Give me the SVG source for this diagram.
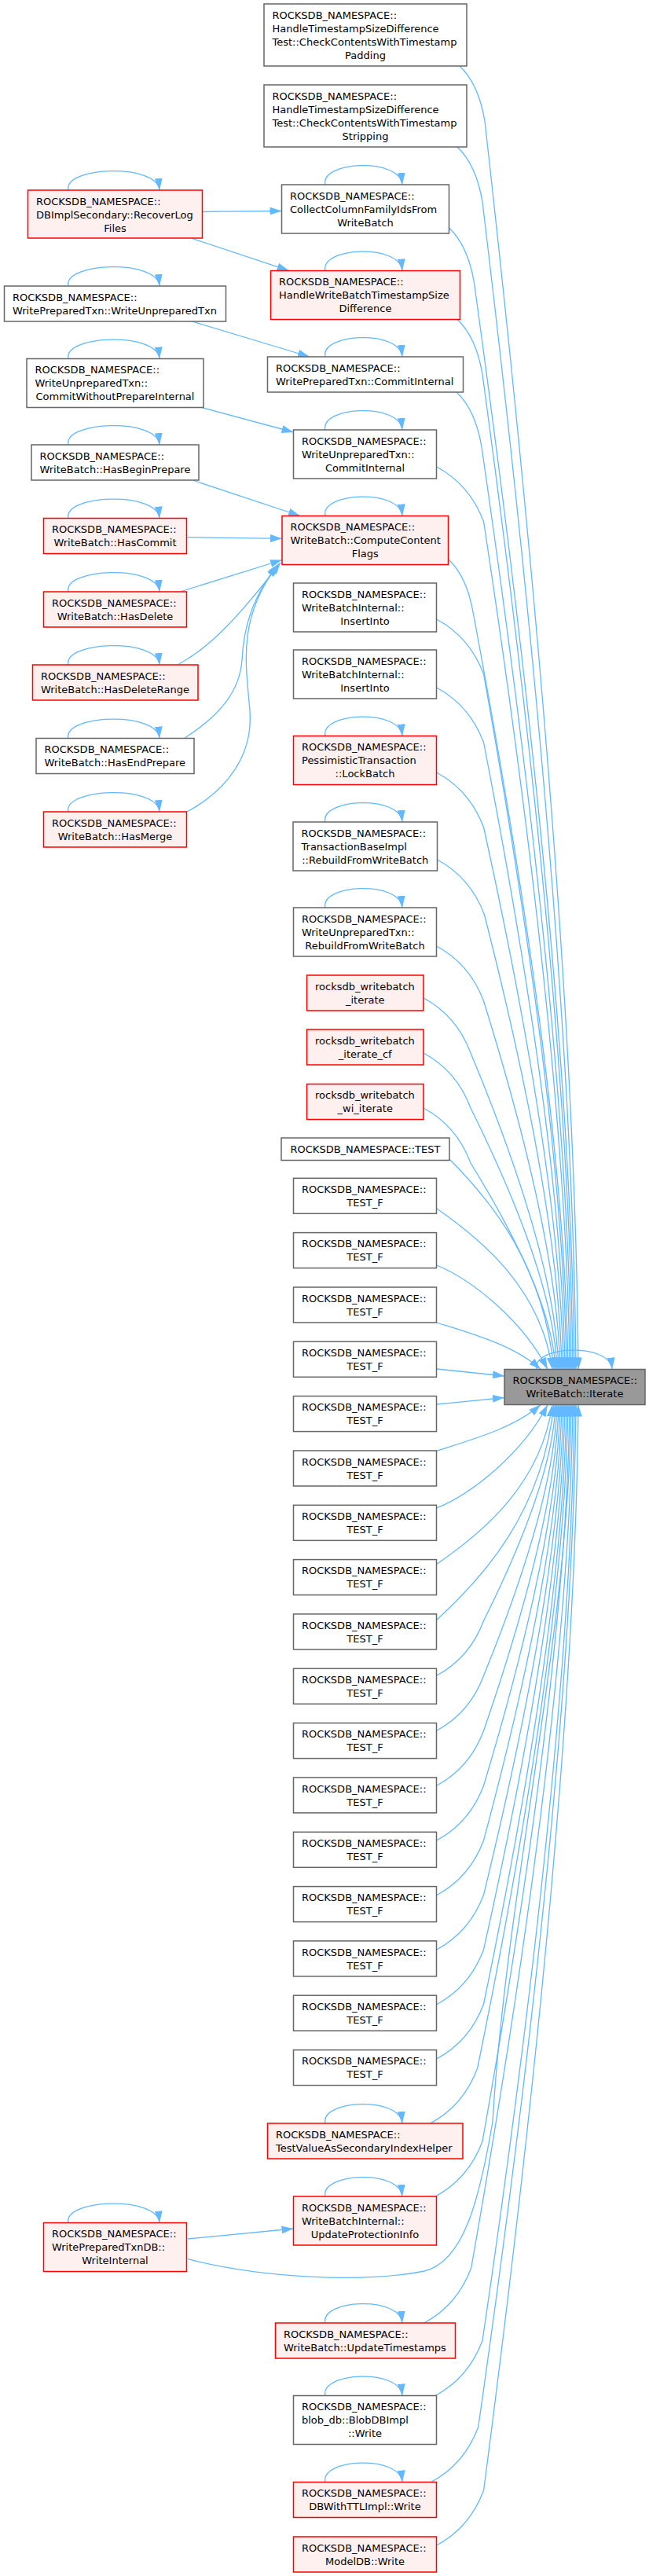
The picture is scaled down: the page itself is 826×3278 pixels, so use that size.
<svg xmlns="http://www.w3.org/2000/svg" width="826" height="3278" viewBox="0 0 826 3278">
<defs>
<marker id="ah" markerUnits="userSpaceOnUse" markerWidth="15" markerHeight="10" viewBox="0 0 15 10" refX="15" refY="5" orient="auto"><path d="M0,0 L15,5 L0,10 z" fill="#63b8ff"/></marker>
</defs>
<style>
rect{stroke-width:1.5}
.w rect{fill:#ffffff;stroke:#666666}
.r rect{fill:#fff0f0;stroke:#ff0000}
.g rect{fill:#999999;stroke:#666666}
text{font-family:"DejaVu Sans","Liberation Sans",sans-serif;font-size:13px;fill:#000000}
.c{text-anchor:middle}
#edges path{fill:none;stroke:#63b8ff;stroke-width:1.3;marker-end:url(#ah)}
</style>
<rect x="0" y="0" width="826" height="3278" fill="#ffffff"/>
<g id="edges">
<path d="M585,84 C601,99 612,124 617,154 C670.6,630.6 732.4,1265.9 736,1742.5"/>
<path d="M582,187 C598,202 609,227 614,257 C667.6,702.7 729.4,1296.9 733,1742.5"/>
<path d="M571.5,290 C587.5,305 598.5,330 603.5,360 C660.9,774.8 727.2,1327.8 731,1742.5"/>
<path d="M582,406.5 C598,421.5 609,446.5 614,476.5 C665.8,856.3 725.6,1362.7 729,1742.5"/>
<path d="M581,499 C597,514 608,539 613,569 C664.3,921 723.6,1390.4 727,1742.5"/>
<path d="M555.6,594 C583.6,609 603.6,632 615.6,664 C664.8,987.6 721.7,1419 725,1742.5"/>
<path d="M570.5,711.5 C586.5,726.5 597.5,751.5 602.5,781.5 C656.7,1069.8 719.4,1454.2 723,1742.5"/>
<path d="M555.6,788 C583.6,803 603.6,826 615.6,858 C663,1123.4 717.8,1477.2 721,1742.5"/>
<path d="M555.6,875 C583.6,890 603.6,913 615.6,945 C662.1,1184.3 715.9,1503.3 719,1742.5"/>
<path d="M555.6,983 C583.6,998 603.6,1021 615.6,1053 C661.2,1259.9 714,1535.6 717,1742.5"/>
<path d="M556.5,1094 C584.5,1109 604.5,1132 616.5,1164 C660.8,1337.6 712,1568.9 715,1742.5"/>
<path d="M555.6,1204 C583.6,1219 603.6,1242 615.6,1274 C659.4,1414.6 710.1,1601.9 713,1742.5"/>
<path d="M539,1270 C567,1285 587,1308 599,1340 C649.4,1460.8 707.6,1621.8 711,1742.5"/>
<path d="M539,1340 C567,1355 587,1378 599,1410 C648.5,1509.8 705.7,1642.8 709,1742.5"/>
<path d="M539,1410 C567,1425 587,1448 599,1480 C647.6,1558.8 703.8,1663.8 707,1742.5"/>
<path d="M572,1475 C625.2,1528.5 691.7,1608.8 705,1742.5"/>
<path d="M555.6,1537.7 C614.6,1578.7 688.3,1640.1 703,1742.5"/>
<path d="M555.6,1610 C600,1628 665,1680 697,1742.5"/>
<path d="M555.6,1683 C600,1697 655,1712 688,1742.5"/>
<path d="M555.6,1742 C585,1745 615,1748 642,1751"/>
<path d="M555.6,1787 C585,1784 615,1781 642,1778.5"/>
<path d="M555.6,1846.3 C600,1832 655,1817 688,1787.5"/>
<path d="M555.6,1919 C600,1901 665,1850 697,1787.5"/>
<path d="M555.6,1990.5 C614.6,1949.9 688.3,1889 703,1787.5"/>
<path d="M555.6,2061.5 C615.4,2006.7 690.1,1924.5 705,1787.5"/>
<path d="M555.6,2132.3 C583.6,2117.3 603.6,2094.3 615.6,2062.3 C656.7,1979.9 704.3,1869.9 707,1787.5"/>
<path d="M555.6,2202.3 C583.6,2187.3 603.6,2164.3 615.6,2132.3 C657.6,2028.9 706.2,1891 709,1787.5"/>
<path d="M555.6,2272.3 C583.6,2257.3 603.6,2234.3 615.6,2202.3 C658.5,2077.9 708.1,1911.9 711,1787.5"/>
<path d="M555.6,2342 C583.6,2327 603.6,2304 615.6,2272 C659.4,2126.7 710.1,1932.9 713,1787.5"/>
<path d="M555.6,2411.7 C583.6,2396.7 603.6,2373.7 615.6,2341.7 C660.3,2175.4 712,1953.8 715,1787.5"/>
<path d="M555.6,2481 C583.6,2466 603.6,2443 615.6,2411 C661.2,2223.9 714,1974.6 717,1787.5"/>
<path d="M555.6,2550.7 C583.6,2535.7 603.6,2512.7 615.6,2480.7 C662.1,2272.7 715.9,1995.5 719,1787.5"/>
<path d="M555.6,2620 C583.6,2605 603.6,2582 615.6,2550 C663,2321.3 717.8,2016.3 721,1787.5"/>
<path d="M547.6,2702 C575.6,2687 595.6,2664 607.6,2632 C659.5,2378.6 719.5,2040.9 723,1787.5"/>
<path d="M554,2795 C582,2780 602,2757 614,2725 C664,2443.8 721.7,2068.8 725,1787.5"/>
<path d="M239,2874.7 C330,2898 460,2906 540,2890 C590,2878 610,2800 627,2700 C645,2400 724,2080 727,1787.5"/>
<path d="M539.7,2956 C567.7,2941 587.7,2918 599.7,2886 C657.9,2556.5 725.1,2117.1 729,1787.5"/>
<path d="M554,3048.5 C582,3033.5 602,3010.5 614,2978.5 C666.7,2621.2 727.5,2144.8 731,1787.5"/>
<path d="M548.7,3158.5 C576.7,3143.5 596.7,3120.5 608.7,3088.5 C664.6,2698.2 729.3,2177.8 733,1787.5"/>
<path d="M555.6,3239 C583.6,3224 603.6,3201 615.6,3169 C669.8,2754.6 732.4,2201.9 736,1787.5"/>
<path d="M257,269.5 C290,269 320,268.7 358.5,268.5"/>
<path d="M244.5,303.5 L367.7,344.3"/>
<path d="M244.5,409 L394,454"/>
<path d="M257,518.7 L373.5,550"/>
<path d="M246.5,611.5 L382,656.5"/>
<path d="M238.5,683.7 L359,685.3"/>
<path d="M230.7,752.5 L359,712.5"/>
<path d="M227.5,845 C265,825 300,790 357,716"/>
<path d="M235.4,939 C280,910 305,880 308,840 C310,800 320,760 355,717.5"/>
<path d="M238,1033 C290,1005 322,960 318,905 C314,850 300,790 353,719"/>
<path d="M239,2849 L373.5,2836"/>
<path d="M87,242 C80,212 200,207 203,242"/>
<path d="M87,364 C80,334 200,329 203,364"/>
<path d="M87,456.5 C80,426.5 200,421.5 203,456.5"/>
<path d="M87,566 C80,536 200,531 203,566"/>
<path d="M87,659.5 C80,629.5 200,624.5 203,659.5"/>
<path d="M87,753 C80,723 200,718 203,753"/>
<path d="M87,846 C80,816 200,811 203,846"/>
<path d="M87,939.5 C80,909.5 200,904.5 203,939.5"/>
<path d="M87,1033 C80,1003 200,998 203,1033"/>
<path d="M87,2828.5 C80,2798.5 200,2793.5 203,2828.5"/>
<path d="M414,235 C407,205 509,200 512,235"/>
<path d="M414,344.5 C407,314.5 509,309.5 512,344.5"/>
<path d="M414,454 C407,424 509,419 512,454"/>
<path d="M414,547 C407,517 509,512 512,547"/>
<path d="M414,656.5 C407,626.5 509,621.5 512,656.5"/>
<path d="M414,936.5 C407,906.5 509,901.5 512,936.5"/>
<path d="M414,1046 C407,1016 509,1011 512,1046"/>
<path d="M414,1155 C407,1125 509,1120 512,1155"/>
<path d="M414,2702 C407,2672 509,2667 512,2702"/>
<path d="M414,2795 C407,2765 509,2760 512,2795"/>
<path d="M414,2956 C407,2926 509,2921 512,2956"/>
<path d="M414,3048.5 C407,3018.5 509,3013.5 512,3048.5"/>
<path d="M414,3158.5 C407,3128.5 509,3123.5 512,3158.5"/>
<path d="M683,1742.5 C676,1712.5 776,1707.5 779,1742.5"/>
</g>
<g id="nA" class="w"><rect x="336" y="5" width="258" height="79"/><text x="346.5" y="23.8">ROCKSDB_NAMESPACE::</text><text x="346.5" y="40.8">HandleTimestampSizeDifference</text><text x="346.5" y="57.8">Test::CheckContentsWithTimestamp</text><text class="c" x="465" y="74.8">Padding</text></g>
<g id="nB" class="w"><rect x="336" y="108" width="258" height="79"/><text x="346.5" y="126.8">ROCKSDB_NAMESPACE::</text><text x="346.5" y="143.8">HandleTimestampSizeDifference</text><text x="346.5" y="160.8">Test::CheckContentsWithTimestamp</text><text class="c" x="465" y="177.8">Stripping</text></g>
<g id="nC" class="r"><rect x="35.5" y="242" width="222" height="61"/><text x="46" y="260.8">ROCKSDB_NAMESPACE::</text><text x="46" y="277.8">DBImplSecondary::RecoverLog</text><text class="c" x="146.5" y="294.8">Files</text></g>
<g id="nD" class="w"><rect x="358.5" y="235" width="213" height="62"/><text x="369" y="253.8">ROCKSDB_NAMESPACE::</text><text x="369" y="270.8">CollectColumnFamilyIdsFrom</text><text class="c" x="465" y="287.8">WriteBatch</text></g>
<g id="nE" class="r"><rect x="344.5" y="344.5" width="241" height="62"/><text x="355" y="363.3">ROCKSDB_NAMESPACE::</text><text x="355" y="380.3">HandleWriteBatchTimestampSize</text><text class="c" x="465" y="397.3">Difference</text></g>
<g id="nF" class="w"><rect x="5.5" y="364" width="282" height="45"/><text x="16" y="382.8">ROCKSDB_NAMESPACE::</text><text x="16" y="399.8">WritePreparedTxn::WriteUnpreparedTxn</text></g>
<g id="nG" class="w"><rect x="340.5" y="454" width="249" height="45"/><text x="351" y="472.8">ROCKSDB_NAMESPACE::</text><text x="351" y="489.8">WritePreparedTxn::CommitInternal</text></g>
<g id="nH" class="w"><rect x="34" y="456.5" width="225" height="62"/><text x="44.5" y="475.3">ROCKSDB_NAMESPACE::</text><text x="44.5" y="492.3">WriteUnpreparedTxn::</text><text class="c" x="146.5" y="509.3">CommitWithoutPrepareInternal</text></g>
<g id="nI" class="w"><rect x="373.5" y="547" width="182" height="62"/><text x="384" y="565.8">ROCKSDB_NAMESPACE::</text><text x="384" y="582.8">WriteUnpreparedTxn::</text><text class="c" x="464.5" y="599.8">CommitInternal</text></g>
<g id="nJ" class="w"><rect x="40" y="566" width="213" height="45"/><text x="50.5" y="584.8">ROCKSDB_NAMESPACE::</text><text x="50.5" y="601.8">WriteBatch::HasBeginPrepare</text></g>
<g id="nK" class="r"><rect x="359" y="656.5" width="211.5" height="62"/><text x="369.5" y="675.3">ROCKSDB_NAMESPACE::</text><text x="369.5" y="692.3">WriteBatch::ComputeContent</text><text class="c" x="464.75" y="709.3">Flags</text></g>
<g id="nL" class="r"><rect x="55.5" y="659.5" width="182" height="45"/><text x="66" y="678.3">ROCKSDB_NAMESPACE::</text><text class="c" x="146.5" y="695.3">WriteBatch::HasCommit</text></g>
<g id="nM" class="r"><rect x="55.5" y="753" width="182" height="45"/><text x="66" y="771.8">ROCKSDB_NAMESPACE::</text><text class="c" x="146.5" y="788.8">WriteBatch::HasDelete</text></g>
<g id="nN" class="w"><rect x="373.5" y="742" width="182" height="62"/><text x="384" y="760.8">ROCKSDB_NAMESPACE::</text><text x="384" y="777.8">WriteBatchInternal::</text><text class="c" x="464.5" y="794.8">InsertInto</text></g>
<g id="nN2" class="w"><rect x="373.5" y="827" width="182" height="62"/><text x="384" y="845.8">ROCKSDB_NAMESPACE::</text><text x="384" y="862.8">WriteBatchInternal::</text><text class="c" x="464.5" y="879.8">InsertInto</text></g>
<g id="nO" class="r"><rect x="41.5" y="846" width="210.5" height="45"/><text x="52" y="864.8">ROCKSDB_NAMESPACE::</text><text x="52" y="881.8">WriteBatch::HasDeleteRange</text></g>
<g id="nP" class="w"><rect x="46" y="939.5" width="201" height="45"/><text x="56.5" y="958.3">ROCKSDB_NAMESPACE::</text><text x="56.5" y="975.3">WriteBatch::HasEndPrepare</text></g>
<g id="nR" class="r"><rect x="373.5" y="936.5" width="182" height="62"/><text x="384" y="955.3">ROCKSDB_NAMESPACE::</text><text x="384" y="972.3">PessimisticTransaction</text><text class="c" x="464.5" y="989.3">::LockBatch</text></g>
<g id="nQ" class="r"><rect x="55.5" y="1033" width="182" height="45"/><text x="66" y="1051.8">ROCKSDB_NAMESPACE::</text><text class="c" x="146.5" y="1068.8">WriteBatch::HasMerge</text></g>
<g id="nS" class="w"><rect x="373" y="1046" width="183.5" height="62"/><text x="383.5" y="1064.8">ROCKSDB_NAMESPACE::</text><text x="383.5" y="1081.8">TransactionBaseImpl</text><text class="c" x="464.75" y="1098.8">::RebuildFromWriteBatch</text></g>
<g id="nT" class="w"><rect x="373.5" y="1155" width="182" height="62"/><text x="384" y="1173.8">ROCKSDB_NAMESPACE::</text><text x="384" y="1190.8">WriteUnpreparedTxn::</text><text class="c" x="464.5" y="1207.8">RebuildFromWriteBatch</text></g>
<g id="nU" class="r"><rect x="390.5" y="1241" width="148.5" height="45"/><text x="401" y="1259.8">rocksdb_writebatch</text><text class="c" x="464.75" y="1276.8">_iterate</text></g>
<g id="nV" class="r"><rect x="390.5" y="1310" width="148.5" height="45"/><text x="401" y="1328.8">rocksdb_writebatch</text><text class="c" x="464.75" y="1345.8">_iterate_cf</text></g>
<g id="nW" class="r"><rect x="390.5" y="1379.5" width="148.5" height="45"/><text x="401" y="1398.3">rocksdb_writebatch</text><text class="c" x="464.75" y="1415.3">_wi_iterate</text></g>
<g id="nX" class="w"><rect x="358" y="1448" width="214" height="28.5"/><text class="c" x="465" y="1466.8">ROCKSDB_NAMESPACE::TEST</text></g>
<g id="nTF1" class="w"><rect x="373.5" y="1499.3" width="182" height="45"/><text x="384" y="1518.1">ROCKSDB_NAMESPACE::</text><text class="c" x="464.5" y="1535.1">TEST_F</text></g>
<g id="nTF2" class="w"><rect x="373.5" y="1568.6" width="182" height="45"/><text x="384" y="1587.4">ROCKSDB_NAMESPACE::</text><text class="c" x="464.5" y="1604.4">TEST_F</text></g>
<g id="nTF3" class="w"><rect x="373.5" y="1638" width="182" height="45"/><text x="384" y="1656.8">ROCKSDB_NAMESPACE::</text><text class="c" x="464.5" y="1673.8">TEST_F</text></g>
<g id="nTF4" class="w"><rect x="373.5" y="1707.3" width="182" height="45"/><text x="384" y="1726.1">ROCKSDB_NAMESPACE::</text><text class="c" x="464.5" y="1743.1">TEST_F</text></g>
<g id="nTF5" class="w"><rect x="373.5" y="1776.6" width="182" height="45"/><text x="384" y="1795.4">ROCKSDB_NAMESPACE::</text><text class="c" x="464.5" y="1812.4">TEST_F</text></g>
<g id="nTF6" class="w"><rect x="373.5" y="1846" width="182" height="45"/><text x="384" y="1864.8">ROCKSDB_NAMESPACE::</text><text class="c" x="464.5" y="1881.8">TEST_F</text></g>
<g id="nTF7" class="w"><rect x="373.5" y="1915.3" width="182" height="45"/><text x="384" y="1934.1">ROCKSDB_NAMESPACE::</text><text class="c" x="464.5" y="1951.1">TEST_F</text></g>
<g id="nTF8" class="w"><rect x="373.5" y="1984.6" width="182" height="45"/><text x="384" y="2003.4">ROCKSDB_NAMESPACE::</text><text class="c" x="464.5" y="2020.4">TEST_F</text></g>
<g id="nTF9" class="w"><rect x="373.5" y="2053.9" width="182" height="45"/><text x="384" y="2072.7">ROCKSDB_NAMESPACE::</text><text class="c" x="464.5" y="2089.7">TEST_F</text></g>
<g id="nTF10" class="w"><rect x="373.5" y="2123.3" width="182" height="45"/><text x="384" y="2142.1">ROCKSDB_NAMESPACE::</text><text class="c" x="464.5" y="2159.1">TEST_F</text></g>
<g id="nTF11" class="w"><rect x="373.5" y="2192.6" width="182" height="45"/><text x="384" y="2211.4">ROCKSDB_NAMESPACE::</text><text class="c" x="464.5" y="2228.4">TEST_F</text></g>
<g id="nTF12" class="w"><rect x="373.5" y="2261.9" width="182" height="45"/><text x="384" y="2280.7">ROCKSDB_NAMESPACE::</text><text class="c" x="464.5" y="2297.7">TEST_F</text></g>
<g id="nTF13" class="w"><rect x="373.5" y="2331.3" width="182" height="45"/><text x="384" y="2350.1">ROCKSDB_NAMESPACE::</text><text class="c" x="464.5" y="2367.1">TEST_F</text></g>
<g id="nTF14" class="w"><rect x="373.5" y="2400.6" width="182" height="45"/><text x="384" y="2419.4">ROCKSDB_NAMESPACE::</text><text class="c" x="464.5" y="2436.4">TEST_F</text></g>
<g id="nTF15" class="w"><rect x="373.5" y="2469.9" width="182" height="45"/><text x="384" y="2488.7">ROCKSDB_NAMESPACE::</text><text class="c" x="464.5" y="2505.7">TEST_F</text></g>
<g id="nTF16" class="w"><rect x="373.5" y="2539.2" width="182" height="45"/><text x="384" y="2558">ROCKSDB_NAMESPACE::</text><text class="c" x="464.5" y="2575">TEST_F</text></g>
<g id="nTF17" class="w"><rect x="373.5" y="2608.6" width="182" height="45"/><text x="384" y="2627.4">ROCKSDB_NAMESPACE::</text><text class="c" x="464.5" y="2644.4">TEST_F</text></g>
<g id="nY" class="r"><rect x="340.5" y="2702" width="248.5" height="45"/><text x="351" y="2720.8">ROCKSDB_NAMESPACE::</text><text x="351" y="2737.8">TestValueAsSecondaryIndexHelper</text></g>
<g id="nAA" class="r"><rect x="373.5" y="2795" width="182" height="62"/><text x="384" y="2813.8">ROCKSDB_NAMESPACE::</text><text x="384" y="2830.8">WriteBatchInternal::</text><text class="c" x="464.5" y="2847.8">UpdateProtectionInfo</text></g>
<g id="nAB" class="r"><rect x="55.5" y="2828.5" width="182" height="62"/><text x="66" y="2847.3">ROCKSDB_NAMESPACE::</text><text x="66" y="2864.3">WritePreparedTxnDB::</text><text class="c" x="146.5" y="2881.3">WriteInternal</text></g>
<g id="nAC" class="r"><rect x="350.5" y="2956" width="229" height="45"/><text x="361" y="2974.8">ROCKSDB_NAMESPACE::</text><text x="361" y="2991.8">WriteBatch::UpdateTimestamps</text></g>
<g id="nAD" class="w"><rect x="373.5" y="3048.5" width="182" height="62"/><text x="384" y="3067.3">ROCKSDB_NAMESPACE::</text><text x="384" y="3084.3">blob_db::BlobDBImpl</text><text class="c" x="464.5" y="3101.3">::Write</text></g>
<g id="nAE" class="r"><rect x="373.5" y="3158.5" width="182" height="45"/><text x="384" y="3177.3">ROCKSDB_NAMESPACE::</text><text class="c" x="464.5" y="3194.3">DBWithTTLImpl::Write</text></g>
<g id="nAF" class="r"><rect x="373.5" y="3228" width="182" height="45"/><text x="384" y="3246.8">ROCKSDB_NAMESPACE::</text><text class="c" x="464.5" y="3263.8">ModelDB::Write</text></g>
<g id="nZ" class="g"><rect x="642" y="1742.5" width="179" height="45"/><text x="652.5" y="1761.3">ROCKSDB_NAMESPACE::</text><text class="c" x="731.5" y="1778.3">WriteBatch::Iterate</text></g>
</svg>
